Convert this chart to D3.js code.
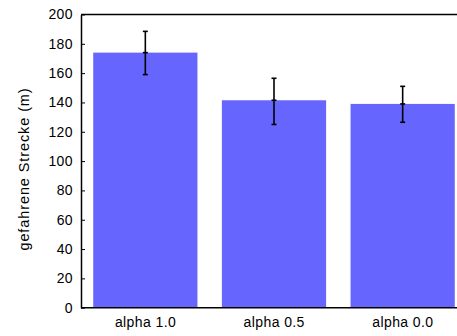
<!DOCTYPE html>
<html>
<head>
<meta charset="utf-8">
<script src="https://cdn.jsdelivr.net/npm/d3@7.9.0/dist/d3.min.js"></script>
<style>
  body { margin: 0; background: #fff; }
  text { font-family: "Liberation Sans", Arial, sans-serif; fill: #000; }
</style>
</head>
<body>
<svg id="chart" width="457" height="336"></svg>
<script>
// data
const categories = ['alpha 1.0', 'alpha 0.5', 'alpha 0.0'];
const means      = [174, 141.5, 139];
const errLow     = [159, 125, 126.5];
const errHigh    = [188.5, 156.5, 151];
const yTicks     = [0, 20, 40, 60, 80, 100, 120, 140, 160, 180, 200];

const svg = d3.select('#chart');

/* plot area runs a bit past the right edge, as in the original */
const plotL = 81, plotR = 467, plotT = 14.5, plotB = 307.7;

const x = d3.scaleBand()
  .domain(categories)
  .range([plotL, plotR])
  .paddingInner(0.19)
  .paddingOuter(0.095);

const y = d3.scaleLinear().domain([0, 200]).range([plotB, plotT]);

/* ---- bars ---- */
svg.append('g')
  .selectAll('rect')
  .data(categories)
  .enter()
  .append('rect')
    .attr('x', d => x(d))
    .attr('y', (d, i) => y(means[i]))
    .attr('width', x.bandwidth())
    .attr('height', (d, i) => y(0) - y(means[i]))
    .attr('fill', '#6666ff');

/* ---- error bars ---- */
const eb = svg.append('g').attr('stroke', '#000').attr('stroke-width', 1.6);
categories.forEach((c, i) => {
  const cx = x(c) + x.bandwidth() / 2;
  eb.append('line').attr('x1', cx).attr('x2', cx).attr('y1', y(errLow[i])).attr('y2', y(errHigh[i]));
  [errLow[i], errHigh[i], means[i]].forEach(v => {
    eb.append('line').attr('x1', cx - 2.5).attr('x2', cx + 2.5).attr('y1', y(v)).attr('y2', y(v));
  });
});

/* ---- frame ---- */
const frame = svg.append('g').attr('stroke', '#000').attr('stroke-width', 1.5).attr('fill', 'none');
frame.append('line').attr('x1', plotL).attr('x2', plotR).attr('y1', plotT).attr('y2', plotT);
frame.append('line').attr('x1', plotL).attr('x2', plotR).attr('y1', plotB).attr('y2', plotB);

/* ---- y axis (inward ticks) ---- */
const yAxis = svg.append('g')
  .attr('transform', `translate(${plotL},0)`)
  .call(d3.axisLeft(y).tickValues(yTicks).tickSizeInner(-4).tickSizeOuter(0).tickPadding(8));
yAxis.select('.domain').attr('stroke-width', 1.5);
yAxis.selectAll('.tick line').attr('stroke-width', 1);
yAxis.selectAll('text')
  .attr('font-size', 14)
  .attr('letter-spacing', 0.4)
  .attr('font-family', '"Liberation Sans", Arial, sans-serif');

/* ---- x axis labels ---- */
const xAxis = svg.append('g')
  .attr('transform', `translate(0,${plotB})`)
  .call(d3.axisBottom(x).tickSize(0).tickPadding(9));
xAxis.select('.domain').remove();
xAxis.selectAll('text')
  .attr('font-size', 14)
  .attr('letter-spacing', 0.4)
  .attr('dx', 0.2)
  .attr('font-family', '"Liberation Sans", Arial, sans-serif');

/* ---- y label ---- */
svg.append('text')
  .attr('transform', `translate(29,169) rotate(-90)`)
  .attr('text-anchor', 'middle')
  .attr('font-size', 14.5)
  .attr('letter-spacing', 0.9)
  .text('gefahrene Strecke (m)');
</script>
</body>
</html>
